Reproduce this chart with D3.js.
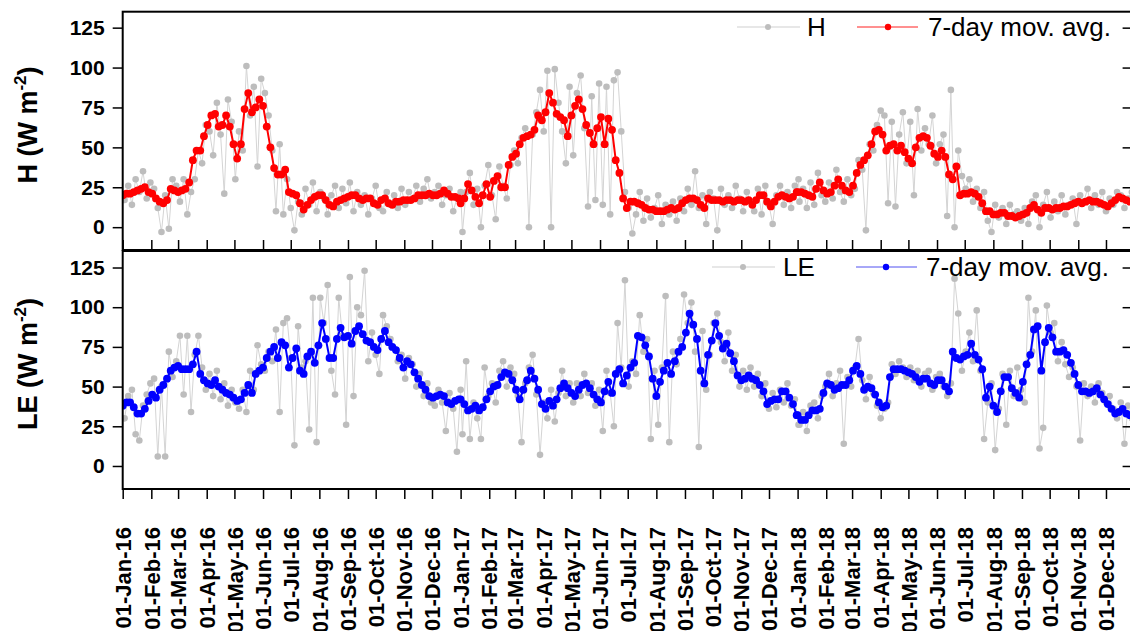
<!DOCTYPE html>
<html><head><meta charset="utf-8">
<script src="https://cdn.jsdelivr.net/npm/d3@7"></script>
<style>html,body{margin:0;padding:0;background:#fff;}svg{display:block;}</style>
</head><body>
<svg id="chart" width="1130" height="631"></svg>
<script>
// ---------- DATA ----------
// 7-day moving averages, one value every 4 days from 1 Jan of each year
// rows = months (Jan..Dec)
const hAvg2016 = [
 20,21,21,22,23,24,25,22, 21,18,16,15,17,24,23, 22,23,24,28,42,48,48,57, 64,70,71,63,64,70,63,
 52,43,52,74,84,72,75,80, 76,63,50,37,33,33,36,22, 21,20,15,11,14,17,19, 20,20,17,14,13,16,17,18,
 19,20,20,18,17,18,18,15, 14,17,18,15,14,16,16, 17,17,17,18,20,20,20,21, 20,20,21,23,21,19,19,18];
const hAvg2017 = [
 15,18,27,23,19,15,20,27, 19,29,32,25,25,39,44, 46,52,56,57,58,61,70,67, 72,84,78,71,69,67,57,
 70,76,80,74,64,59,52,62, 69,52,68,61,42,34,18,12, 16,16,15,14,12,11,11, 10,10,10,11,12,11,12,15,
 17,18,18,17,14,12,18,17, 17,17,16,17,17,16,17, 17,16,17,14,17,20,20,16, 13,16,19,20,19,18,19,22];
const hAvg2018 = [
 22,22,21,20,19,24,28,23, 21,22,26,30,26,23,22, 26,34,39,42,45,52,60,61, 58,48,51,52,48,51,47,
 43,40,50,56,57,56,51,46, 44,48,44,33,30,38,20,21, 21,22,21,19,15,10,10, 8,8,9,9,7,7,6,7,
 8,9,12,14,11,9,12,12, 11,12,12,13,13,14,15, 16,15,16,17,16,16,15,14, 13,15,17,19,18,17,16,16];

// daily H samples, one every 4 days from 3 Jan of each year
const hDay2016 = [
 17,26,14,30,22,35,18,28, 24,12,-3,20,-1,30,26, 16,30,8,22,30,48,40,64, 60,45,78,58,21,80,66,
 30,60,48,101,70,88,38,93, 84,70,48,10,52,8,30,12, -2,16,8,24,14,28,10, 22,18,8,20,26,12,24,15,
 28,10,22,14,20,8,18,26, 12,10,22,14,20,12,24, 14,22,18,26,16,24,30,18, 22,26,14,20,24,10,18,22];
const hDay2017 = [
 -3,22,34,14,24,0,26,39, 20,5,38,26,18,39,48, 40,56,62,0,58,72,86,60, 98,0,99,78,60,40,88,
 45,84,95,62,13,82,17,90, 14,88,8,92,97,60,22,12, -4,8,22,4,18,6,12, 20,2,14,8,16,4,18,10,
 24,14,35,12,20,2,22,18, -2,24,14,20,12,26,18, 10,22,16,10,24,8,26,14, 2,20,26,14,22,12,26,30];
const hDay2018 = [
 16,24,12,28,14,34,20,16, 28,18,36,22,16,30,20, 24,42,36,-2,52,48,64,73, 70,15,66,13,58,72,40,
 66,20,74,48,62,52,70,40, 52,58,7,86,0,48,32,24, 30,16,24,12,22,4,-3, 14,6,12,2,14,8,10,4,
 12,2,16,20,0,14,22,6, 16,10,20,8,14,18,2, 20,16,24,12,20,14,22,10, 18,14,22,20,12,18,22,14];

const leAvg2016 = [
 38,40,40,37,33,33,36,41, 45,43,48,51,55,60,62, 63,61,61,61,64,72,58,54, 52,51,54,50,48,46,45,
 43,41,42,46,51,46,58,60, 62,68,72,75,68,78,76,62, 68,74,60,58,69,72,65, 76,90,80,68,68,80,87,81,
 82,77,85,88,83,79,78,75, 73,80,85,78,75,73,68, 62,66,64,59,55,51,48,44, 43,44,45,44,40,39,41,42];
const leAvg2017 = [
 42,39,35,36,38,35,37,42, 47,50,51,56,59,58,54, 48,42,48,54,60,55,48,39, 36,41,38,42,49,52,49,
 46,44,48,51,52,49,45,42, 40,47,53,46,58,61,52,57, 62,65,82,81,76,69,55, 44,53,60,65,58,66,72,75,
 84,96,89,80,60,52,70,79, 90,82,74,77,71,66,57, 54,55,57,55,54,51,47,39, 41,42,42,47,47,43,39,32];
const leAvg2018 = [
 32,29,29,32,35,35,36,46, 52,51,48,49,51,51,54, 60,63,58,48,50,49,45,40, 37,38,56,61,61,61,60,
 59,58,56,53,55,55,52,51, 54,54,50,47,72,68,67,69, 70,77,70,67,61,43,50, 38,34,47,56,56,49,46,43,
 53,64,70,86,88,60,78,87, 81,72,72,73,70,65,58, 51,47,47,46,47,49,45,42, 39,36,33,34,36,33,32,33];

const leDay2016 = [
 30,44,48,20,16,38,45,52, 55,6,50,6,72,56,66, 82,45,82,34,70,82,62,48, 58,44,60,42,52,38,48,
 40,36,48,34,60,48,76,64, 60,72,66,86,34,90,93,68, 13,88,62,66,23,106,15, 106,90,114,60,45,106,82,26,
 119,44,100,95,123,66,84,70, 58,95,88,80,74,66,70, 55,68,64,50,58,44,52,40, 38,48,40,22,46,36,9,48];
const leDay2017 = [
 20,66,17,40,30,17,62,44, 52,40,60,66,50,62,58, 44,15,52,62,70,45,7,40, 30,48,28,46,60,44,52,
 40,52,44,58,46,52,38,48, 22,60,46,25,90,62,117,50, 66,58,95,72,80,17,60, 26,62,107,15,72,64,80,108,
 90,103,72,12,85,48,70,90, 96,78,66,84,60,70,50, 60,48,62,50,58,44,52,36, 46,37,48,40,52,38,42,26];
const leDay2018 = [
 26,34,22,38,40,30,44,50, 58,44,52,60,14,56,50, 62,80,54,42,56,46,38,30, 36,40,64,58,66,62,56,
 62,54,60,50,58,60,48,56, 58,50,44,52,118,96,60,72, 84,66,98,60,17,40,52, 10,36,58,26,60,44,62,48,
 40,106,72,98,11,24,101,84, 90,66,78,64,56,62,50, 16,52,44,50,40,52,46,40, 44,36,30,40,14,38,30,34];

const yTicks = [0, 25, 50, 75, 100, 125];
const legendLabels = [["H", "7-day mov. avg."], ["LE", "7-day mov. avg."]];
const axisTitles = ["H", "LE"];

// ---------- BUILD ----------
function build(yearArrays, offsetDays) {
  return yearArrays.flatMap((arr, yi) => arr.map((v, k) => ({
    date: d3.utcDay.offset(new Date(Date.UTC(2016 + yi, 0, 1)), offsetDays + 4 * k), v })));
}
const series = [
  { raw: build([hDay2016, hDay2017, hDay2018], 2), avg: build([hAvg2016, hAvg2017, hAvg2018], 0), color: "#ff0000", lcolor: "#ff2020" },
  { raw: build([leDay2016, leDay2017, leDay2018], 2), avg: build([leAvg2016, leAvg2017, leAvg2018], 0), color: "#0000ff", lcolor: "#5050f0" }
];

const FONT = '"Liberation Sans", Arial, Helvetica, sans-serif';
const svg = d3.select("#chart");
const X0 = 122.7, X1 = 1134.6;
const x = d3.scaleUtc().domain([new Date(Date.UTC(2016,0,1)), new Date(Date.UTC(2019,0,1))]).range([X0, X1]);
const months = d3.utcMonth.range(new Date(Date.UTC(2016,0,1)), new Date(Date.UTC(2019,0,1)));

const panels = [
  { top: 11.7, bottom: 250, dom: [-14.3, 135.0], titleY: 125, legY: 27, leg: [737, 800, 768, 807, 857, 918, 888, 928] },
  { top: 251, bottom: 489, dom: [-14.5, 135.4], titleY: 364, legY: 267, leg: [712, 775, 743, 783, 856, 917, 886, 926] }
];

const defs = svg.append("defs");

panels.forEach((p, pi) => {
  const s = series[pi];
  const y = d3.scaleLinear().domain(p.dom).range([p.bottom, p.top]);
  const cid = "clip" + pi;
  defs.append("clipPath").attr("id", cid).append("rect")
    .attr("x", X0).attr("y", p.top).attr("width", X1 - X0).attr("height", p.bottom - p.top);
  const g = svg.append("g").attr("clip-path", `url(#${cid})`);
  const line = d3.line().x(d => x(d.date)).y(d => y(d.v));

  g.append("path").datum(s.raw).attr("d", line).attr("fill", "none")
    .attr("stroke", "#d4d4d4").attr("stroke-width", 1);
  g.selectAll(".rd").data(s.raw).join("circle").attr("class", "rd")
    .attr("cx", d => x(d.date)).attr("cy", d => y(d.v)).attr("r", 3.3).attr("fill", "#bdbdbd");

  g.append("path").datum(s.avg).attr("d", line).attr("fill", "none")
    .attr("stroke", s.color).attr("stroke-width", 2);
  g.selectAll(".av").data(s.avg).join("circle").attr("class", "av")
    .attr("cx", d => x(d.date)).attr("cy", d => y(d.v)).attr("r", 3.9).attr("fill", s.color);

  // frame
  svg.append("rect").attr("x", X0).attr("y", p.top).attr("width", X1 - X0).attr("height", p.bottom - p.top)
    .attr("fill", "none").attr("stroke", "#000").attr("stroke-width", 2);

  // left axis
  const ya = svg.append("g").attr("transform", `translate(${X0},0)`)
    .call(d3.axisLeft(y).tickValues(yTicks).tickSize(10).tickPadding(8));
  ya.select(".domain").remove();
  ya.selectAll("line").attr("stroke-width", 1.5);
  ya.selectAll("text").style("font-family", FONT).style("font-size", "21px").style("font-weight", "bold").attr("fill", "#000");

  // right mirrored ticks (inward)
  const yr = svg.append("g").attr("transform", `translate(${X1},0)`)
    .call(d3.axisLeft(y).tickValues(yTicks).tickSize(12).tickFormat(""));
  yr.select(".domain").remove();
  yr.selectAll("line").attr("stroke-width", 1.5);

  // axis title
  const t = svg.append("text").attr("transform", `translate(37,${p.titleY}) rotate(-90)`)
    .attr("text-anchor", "middle").style("font-family", FONT).style("font-size", "27px").style("font-weight", "bold");
  t.append("tspan").text(axisTitles[pi] + " (W m");
  t.append("tspan").attr("dy", -11).style("font-size", "17px").text("-2");
  t.append("tspan").attr("dy", 11).text(")");

  // legend
  const L = p.leg, ly = p.legY;
  const lg = svg.append("g");
  lg.append("line").attr("x1", L[0]).attr("x2", L[1]).attr("y1", ly).attr("y2", ly).attr("stroke", "#cfcfcf").attr("stroke-width", 1);
  lg.append("circle").attr("cx", L[2]).attr("cy", ly).attr("r", 3).attr("fill", "#bdbdbd");
  lg.append("text").attr("x", L[3]).attr("y", ly).attr("dy", "0.36em").text(legendLabels[pi][0])
    .style("font-family", FONT).style("font-size", "26px");
  lg.append("line").attr("x1", L[4]).attr("x2", L[5]).attr("y1", ly).attr("y2", ly).attr("stroke", s.lcolor).attr("stroke-width", 1);
  lg.append("circle").attr("cx", L[6]).attr("cy", ly).attr("r", 3.2).attr("fill", s.color);
  lg.append("text").attr("x", L[7]).attr("y", ly).attr("dy", "0.36em").text(legendLabels[pi][1])
    .style("font-family", FONT).style("font-size", "26px");
});

// x ticks of top panel (pointing up into panel)
const xt = svg.append("g").attr("transform", "translate(0,250)")
  .call(d3.axisTop(x).tickValues(months).tickSize(10).tickFormat(""));
xt.select(".domain").remove();
xt.selectAll("line").attr("stroke-width", 1.5);

// bottom x axis
const xb = svg.append("g").attr("transform", "translate(0,489)")
  .call(d3.axisBottom(x).tickValues(months).tickSize(10).tickFormat(d3.utcFormat("%d-%b-%y")));
xb.select(".domain").remove();
xb.selectAll("line").attr("stroke-width", 1.5);
xb.selectAll("text").attr("transform", "rotate(-90)").attr("x", -38).attr("y", 0).attr("dy", "0.35em")
  .style("text-anchor", "end").style("font-family", FONT).style("font-size", "22px").style("font-weight", "bold").attr("fill", "#000");
</script>
</body></html>
